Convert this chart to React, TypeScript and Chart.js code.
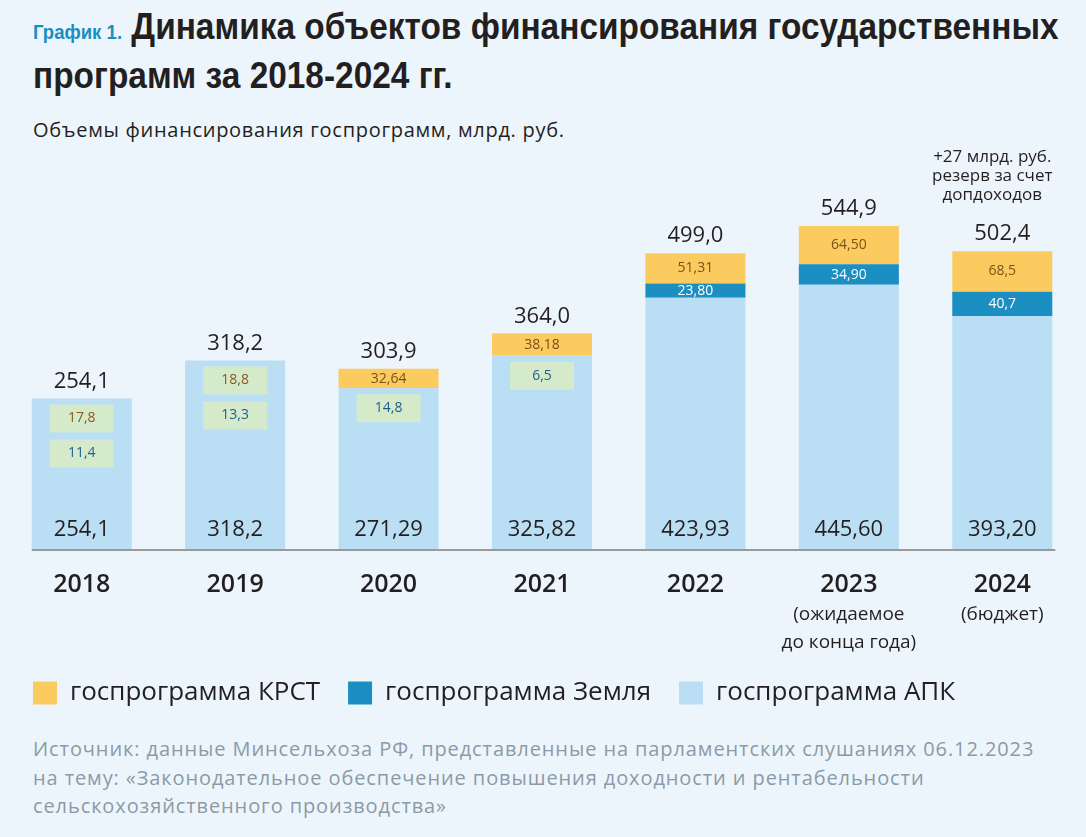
import React, { useEffect, useRef } from 'react';
import { Chart, registerables } from 'chart.js';

Chart.register(...registerables);

const years = ['2018', '2019', '2020', '2021', '2022', '2023', '2024'];
const yearNotes: string[][] = [[], [], [], [], [], ['(ожидаемое', 'до конца года)'], ['(бюджет)']];
const apk = [254.1, 318.2, 271.29, 325.82, 423.93, 445.6, 393.2];
const zemlya = [null, null, null, null, 23.8, 34.9, 40.7];
const krst = [null, null, 32.64, 38.18, 51.31, 64.5, 68.5];
const apkLabels = ['254,1', '318,2', '271,29', '325,82', '423,93', '445,60', '393,20'];
const zemlyaLabels = ['', '', '', '', '23,80', '34,90', '40,7'];
const krstLabels = ['', '', '32,64', '38,18', '51,31', '64,50', '68,5'];
const totalLabels = ['254,1', '318,2', '303,9', '364,0', '499,0', '544,9', '502,4'];
const innerKrstLabels = ['17,8', '18,8', '', '', '', '', ''];
const innerZemlyaLabels = ['11,4', '13,3', '14,8', '6,5', '', '', ''];
const reserveNote = ['+27 млрд. руб.', 'резерв за счет', 'допдоходов'];
const reserveIndex = 6;
const seriesNames = ['госпрограмма АПК', 'госпрограмма Земля', 'госпрограмма КРСТ'];

const C_APK = '#badef4';
const C_ZEM = '#1b8ec2';
const C_KRST = '#fbcb60';
const C_TEXT = '#231f20';
const FONT = '"Open Sans", "Noto Sans", sans-serif';

const labelPlugin = {
  id: 'customLabels',
  beforeDatasetsDraw(chart: any) {
    const ctx = chart.ctx;
    const meta = chart.getDatasetMeta(0);
    const first = meta.data[0];
    const last = meta.data[meta.data.length - 1];
    const y = chart.chartArea.bottom + 1;
    ctx.save();
    ctx.strokeStyle = '#9a9a9a';
    ctx.lineWidth = 2;
    ctx.beginPath();
    ctx.moveTo(first.x - first.width / 2, y);
    ctx.lineTo(last.x + last.width / 2 + 3, y);
    ctx.stroke();
    ctx.restore();
  },
  afterDatasetsDraw(chart: any) {
    const ctx = chart.ctx;
    const mA = chart.getDatasetMeta(0);
    const mZ = chart.getDatasetMeta(1);
    const mK = chart.getDatasetMeta(2);
    ctx.save();
    ctx.textAlign = 'center';
    ctx.textBaseline = 'middle';
    years.forEach((_, i) => {
      const a = mA.data[i];
      const x = a.x;
      // inner green boxes
      let by = a.y + 6;
      const inner: [string, string][] = [
        [innerKrstLabels[i], '#8a5a1c'],
        [innerZemlyaLabels[i], '#1f5f8c'],
      ];
      inner.forEach(([t, c]) => {
        if (!t) return;
        ctx.fillStyle = '#d5e9cb';
        ctx.fillRect(x - 32, by, 64, 28);
        ctx.fillStyle = c;
        ctx.font = `14px ${FONT}`;
        ctx.fillText(t, x, by + 14);
        by += 35;
      });
      // APK label at bottom
      ctx.fillStyle = C_TEXT;
      ctx.font = `22px ${FONT}`;
      ctx.fillText(apkLabels[i], x, a.base - 19);
      let top = a.y;
      if (zemlya[i] != null) {
        const z = mZ.data[i];
        ctx.fillStyle = '#ffffff';
        ctx.font = `14px ${FONT}`;
        ctx.fillText(zemlyaLabels[i], x, (z.y + z.base) / 2);
        top = Math.min(top, z.y);
      }
      if (krst[i] != null) {
        const k = mK.data[i];
        ctx.fillStyle = '#7a5218';
        ctx.font = `14px ${FONT}`;
        ctx.fillText(krstLabels[i], x, (k.y + k.base) / 2);
        top = Math.min(top, k.y);
      }
      ctx.fillStyle = C_TEXT;
      ctx.font = `22px ${FONT}`;
      ctx.fillText(totalLabels[i], x, top - 17);
      if (i === reserveIndex) {
        ctx.font = `17px ${FONT}`;
        reserveNote.forEach((line, j) => {
          ctx.fillText(line, x - 10, top - 94 + j * 19);
        });
      }
    });
    // year sub-notes
    const xs = chart.scales.x;
    ctx.fillStyle = C_TEXT;
    ctx.font = `19px ${FONT}`;
    years.forEach((_, i) => {
      const px = xs.getPixelForValue(i);
      yearNotes[i].forEach((line, j) => {
        ctx.fillText(line, px, chart.chartArea.bottom + 66 + j * 28);
      });
    });
    ctx.restore();
  },
};

export default function App() {
  const ref = useRef<HTMLCanvasElement | null>(null);
  useEffect(() => {
    if (!ref.current) return;
    const chart = new Chart(ref.current, {
      type: 'bar',
      data: {
        labels: years,
        datasets: [
          { label: seriesNames[0], data: apk, backgroundColor: C_APK, borderWidth: 0 },
          { label: seriesNames[1], data: zemlya as any, backgroundColor: C_ZEM, borderWidth: 0 },
          { label: seriesNames[2], data: krst as any, backgroundColor: C_KRST, borderWidth: 0 },
        ],
      },
      options: {
        animation: false,
        responsive: false,
        layout: { padding: { left: 5, right: 7, top: 0, bottom: 0 } },
        datasets: { bar: { categoryPercentage: 1, barPercentage: 0.652 } },
        scales: {
          x: {
            stacked: true,
            grid: { display: false, drawTicks: false },
            border: { display: false },
            ticks: { padding: 21, color: C_TEXT, font: { family: FONT, size: 25, weight: 600 } },
            afterFit: (s: any) => { s.height = 103; },
          },
          y: { stacked: true, display: false, min: 0, max: 690 },
        },
        plugins: {
          tooltip: { enabled: false },
          legend: {
            position: 'bottom',
            align: 'start',
            reverse: true,
            labels: {
              boxWidth: 24,
              boxHeight: 23,
              padding: 28,
              color: C_TEXT,
              font: { family: FONT, size: 26 },
            },
          },
        },
      },
      plugins: [labelPlugin],
    });
    return () => chart.destroy();
  }, []);

  return (
    <div style={{ position: 'absolute', left: 0, top: 0, width: 1086, height: 837, background: '#edf5fc', overflow: 'hidden' }}>
      <div style={{ position: 'absolute', left: 33, top: 5, width: 1200, whiteSpace: 'nowrap', transform: 'scaleX(0.928)', transformOrigin: '0 0', fontFamily: '"Liberation Sans", Arial, sans-serif', fontWeight: 700, fontSize: 36, lineHeight: '43px', color: C_TEXT }}>
        <span style={{ fontSize: 20, color: '#1b8ec2' }}>График 1.</span> Динамика объектов финансирования государственных<br />программ за 2018-2024 гг.
      </div>
      <div style={{ position: 'absolute', left: 33, top: 116, fontFamily: FONT, fontSize: 20, letterSpacing: '0.7px', color: C_TEXT, whiteSpace: 'nowrap' }}>
        Объемы финансирования госпрограмм, млрд. руб.
      </div>
      <canvas ref={ref} width={1086} height={576} style={{ position: 'absolute', left: 0, top: 140 }} />
      <div style={{ position: 'absolute', left: 33, top: 735, fontFamily: FONT, fontSize: 20, letterSpacing: '0.9px', lineHeight: '28.5px', color: '#8c9aa6', whiteSpace: 'nowrap' }}>
        Источник: данные Минсельхоза РФ, представленные на парламентских слушаниях 06.12.2023<br />
        на тему: «Законодательное обеспечение повышения доходности и рентабельности<br />
        сельскохозяйственного производства»
      </div>
    </div>
  );
}
